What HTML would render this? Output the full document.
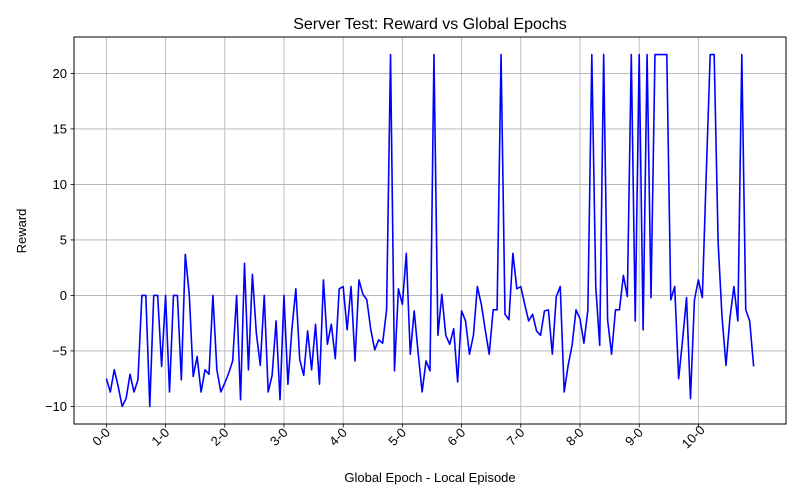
<!DOCTYPE html>
<html><head><meta charset="utf-8"><style>
html,body{margin:0;padding:0;background:#fff;}
svg{display:block;font-family:"Liberation Sans","DejaVu Sans",sans-serif;}
</style></head><body>
<svg id="chart" width="800" height="500" viewBox="0 0 800 500">
<rect width="800" height="500" fill="#fff"/>
<g id="grid"></g>
<g id="series"></g>
<rect x="74" y="37" width="712" height="387" fill="none" stroke="#000" stroke-width="1"/>
<g id="xticks"></g>
<g id="yticks"></g>
<text x="430" y="29" font-size="16" text-anchor="middle">Server Test: Reward vs Global Epochs</text>
<text x="430" y="482" font-size="13" text-anchor="middle">Global Epoch - Local Episode</text>
<text x="26" y="231" font-size="13" text-anchor="middle" transform="rotate(-90 26 231)">Reward</text>
</svg>
<script>
const rewards = [
-7.5,-8.7,-6.7,-8.2,-10,-9.3,-7.1,-8.7,-7.6,0,0,-10,0,0,-6.4,
0,-8.7,0,0,-7.6,3.7,0.1,-7.3,-5.5,-8.7,-6.7,-7.1,0,-6.7,-8.7,
-7.9,-7,-5.9,0,-9.4,2.9,-6.7,1.9,-3.4,-6.3,0,-8.7,-7.2,-2.3,-9.4,
0,-8,-3.1,0.6,-5.8,-7.2,-3.2,-6.7,-2.6,-8,1.4,-4.4,-2.6,-5.7,0.6,
0.8,-3.1,0.8,-5.9,1.4,0.1,-0.4,-3.1,-4.9,-4,-4.3,-1.3,21.7,-6.8,0.6,
-0.8,3.8,-5.3,-1.4,-5.2,-8.7,-5.9,-6.8,21.7,-3.6,0.1,-3.6,-4.4,-3,-7.8,
-1.4,-2.3,-5.3,-3.6,0.8,-0.8,-3.1,-5.3,-1.3,-1.3,21.7,-1.7,-2.2,3.8,0.6,
0.8,-0.8,-2.3,-1.7,-3.2,-3.6,-1.4,-1.3,-5.3,-0.1,0.8,-8.7,-6.3,-4.5,-1.3,
-2.1,-4.3,-1.3,21.7,0.8,-4.5,21.7,-2.2,-5.3,-1.3,-1.3,1.8,-0.1,21.7,-2.3,
21.7,-3.1,21.7,-0.2,21.7,21.7,21.7,21.7,-0.4,0.8,-7.5,-4,-0.2,-9.3,-0.4,
1.4,-0.2,11,21.7,21.7,4.8,-2,-6.3,-2,0.8,-2.3,21.7,-1.3,-2.3,-6.4
];
const xTickLabels = ["0-0","1-0","2-0","3-0","4-0","5-0","6-0","7-0","8-0","9-0","10-0"];
const xTickIndex = [0,15,30,45,60,75,90,105,120,135,150];
const yTickValues = [-10,-5,0,5,10,15,20];

const NS="http://www.w3.org/2000/svg";
const L=74,R=786,T=37,B=424;
const n=rewards.length;
const xmin=-(n-1)*0.05, xmax=(n-1)*1.05;
const dmin=Math.min(...rewards), dmax=Math.max(...rewards), pad=(dmax-dmin)*0.05;
const ymin=dmin-pad, ymax=dmax+pad;
function xs(i){return L+(i-xmin)/(xmax-xmin)*(R-L);}
function ys(v){return B-(v-ymin)/(ymax-ymin)*(B-T);}
function mk(tag,attrs,parent){const e=document.createElementNS(NS,tag);for(const k in attrs)e.setAttribute(k,attrs[k]);parent.appendChild(e);return e;}
const grid=document.getElementById('grid'),xt=document.getElementById('xticks'),yt=document.getElementById('yticks'),ser=document.getElementById('series');
xTickIndex.forEach((idx,k)=>{
  const x=xs(idx);
  const g=mk('line',{x1:x,x2:x,y1:T,y2:B,stroke:'#b0b0b0','stroke-width':0.8},grid);
  
  
  const t=mk('line',{x1:x,x2:x,y1:B,y2:B+3.5,stroke:'#000','stroke-width':0.8},xt);
  
  
  const lx=x-2, ly=B+16;
  const tx=mk('text',{x:lx,y:ly,'font-size':13,'text-anchor':'middle',transform:`rotate(-45 ${lx} ${ly})`},xt);
  tx.textContent=xTickLabels[k];
  
  
});
yTickValues.forEach(v=>{
  const y=ys(v);
  const g=mk('line',{x1:L,x2:R,y1:y,y2:y,stroke:'#b0b0b0','stroke-width':0.8},grid);
  
  
  const t=mk('line',{x1:L-3.5,x2:L,y1:y,y2:y,stroke:'#000','stroke-width':0.8},yt);
  
  
  const tx=mk('text',{x:L-7,y:y+4.5,'font-size':13,'text-anchor':'end'},yt);
  tx.textContent=String(v).replace('-','\u2212');
  
  
});
const pts=rewards.map((v,i)=>xs(i).toFixed(2)+','+ys(v).toFixed(2)).join(' ');
const pl=mk('polyline',{points:pts,fill:'none',stroke:'#0000ff','stroke-width':1.6,'stroke-linejoin':'round'},ser);


</script>
</body></html>
